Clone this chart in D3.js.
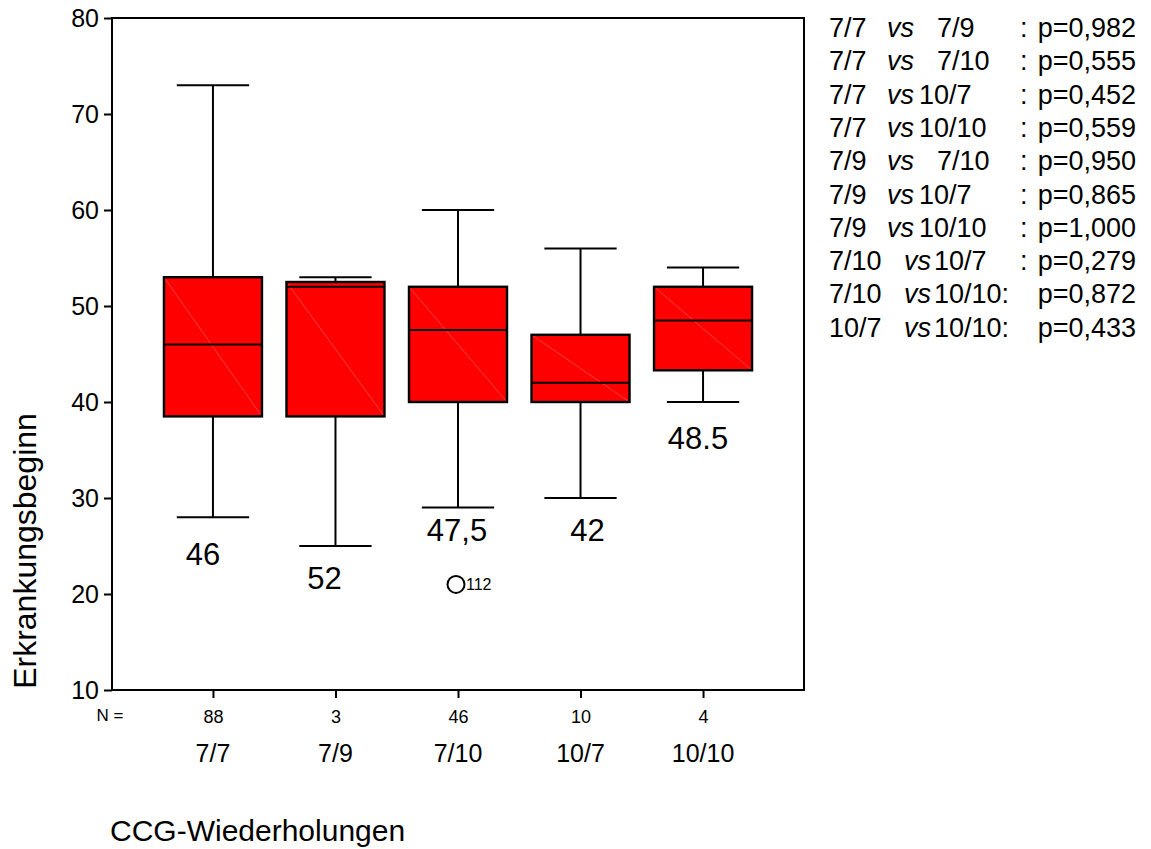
<!DOCTYPE html>
<html>
<head>
<meta charset="utf-8">
<script src="https://cdn.jsdelivr.net/npm/d3@7"></script>
<style>
  html, body { margin: 0; padding: 0; background: #fff; }
  svg { display: block; font-family: "Liberation Sans", Arial, Helvetica, sans-serif; }
</style>
</head>
<body>
<svg id="chart" width="1151" height="849"></svg>
<script>
// Erkrankungsbeginn by CCG-Wiederholungen
const categories = ["7/7", "7/9", "7/10", "10/7", "10/10"];
const counts     = [88, 3, 46, 10, 4];
const whiskerLow = [28, 25, 29, 30, 40];
const q1         = [38.5, 38.5, 40, 40, 43.3];
const median     = [46, 52, 47.5, 42, 48.5];
const q3         = [53, 52.5, 52, 47, 52];
const whiskerHigh= [73, 53, 60, 56, 54];
const medianLabels = ["46", "52", "47,5", "42", "48.5"];
const labelValues  = [23.0, 20.5, 25.5, 25.5, 35.1];   // baseline of each median label on the y scale
const outliers = [{ cat: "7/10", value: 21, id: "112" }];
const yTicks = [10, 20, 30, 40, 50, 60, 70, 80];

// pairwise comparisons
const pairA   = ["7/7", "7/7", "7/7", "7/7", "7/9", "7/9", "7/9", "7/10", "7/10", "10/7"];
const pairB   = ["7/9", "7/10", "10/7", "10/10", "7/10", "10/7", "10/10", "10/7", "10/10", "10/10"];
const pValues = ["0,982", "0,555", "0,452", "0,559", "0,950", "0,865", "1,000", "0,279", "0,872", "0,433"];

const svg = d3.select("#chart");
const plotL = 112, plotR = 804, plotT = 18, plotB = 690;

const y = d3.scaleLinear().domain([10, 80]).range([plotB, plotT]);
const x = d3.scalePoint().domain(categories).range([plotL, plotR]).padding(0.824);
const step = x.step();
const boxW = step * 0.8;
const capW = step * 0.59;

const g = svg.append("g");

// boxes
const rows = categories.map((c, i) => ({
  c, lo: whiskerLow[i], q1: q1[i], med: median[i], q3: q3[i], hi: whiskerHigh[i]
}));

const bx = g.selectAll(".box").data(rows).enter().append("g").attr("class", "box");

// whisker stems
bx.append("line")
  .attr("x1", d => x(d.c)).attr("x2", d => x(d.c))
  .attr("y1", d => y(d.hi)).attr("y2", d => y(d.q3))
  .attr("stroke", "#000").attr("stroke-width", 2);
bx.append("line")
  .attr("x1", d => x(d.c)).attr("x2", d => x(d.c))
  .attr("y1", d => y(d.q1)).attr("y2", d => y(d.lo))
  .attr("stroke", "#000").attr("stroke-width", 2);
// caps
bx.append("line")
  .attr("x1", d => x(d.c) - capW / 2).attr("x2", d => x(d.c) + capW / 2)
  .attr("y1", d => y(d.hi)).attr("y2", d => y(d.hi))
  .attr("stroke", "#000").attr("stroke-width", 2);
bx.append("line")
  .attr("x1", d => x(d.c) - capW / 2).attr("x2", d => x(d.c) + capW / 2)
  .attr("y1", d => y(d.lo)).attr("y2", d => y(d.lo))
  .attr("stroke", "#000").attr("stroke-width", 2);
// box body
bx.append("rect")
  .attr("x", d => x(d.c) - boxW / 2).attr("width", boxW)
  .attr("y", d => y(d.q3)).attr("height", d => y(d.q1) - y(d.q3))
  .attr("fill", "#ff0000");
// faint diagonal inside the fill
bx.append("line")
  .attr("x1", d => x(d.c) - boxW / 2).attr("x2", d => x(d.c) + boxW / 2)
  .attr("y1", d => y(d.q3)).attr("y2", d => y(d.q1))
  .attr("stroke", "#ff6a6a").attr("stroke-width", 0.6);
bx.append("rect")
  .attr("x", d => x(d.c) - boxW / 2).attr("width", boxW)
  .attr("y", d => y(d.q3)).attr("height", d => y(d.q1) - y(d.q3))
  .attr("fill", "none").attr("stroke", "#000").attr("stroke-width", 2.4);
// median
bx.append("line")
  .attr("x1", d => x(d.c) - boxW / 2).attr("x2", d => x(d.c) + boxW / 2)
  .attr("y1", d => y(d.med)).attr("y2", d => y(d.med))
  .attr("stroke", "#000").attr("stroke-width", 2);

// outliers
outliers.forEach(o => {
  g.append("circle")
    .attr("cx", x(o.cat) - 2).attr("cy", y(o.value))
    .attr("r", 8.5).attr("fill", "none").attr("stroke", "#000").attr("stroke-width", 2);
  g.append("text")
    .attr("x", x(o.cat) + 8).attr("y", y(o.value) + 6)
    .attr("font-size", 16).text(o.id);
});

// median value labels
const labelShift = [-10, -11, -1, 7, -5];
g.selectAll(".mlab").data(categories).enter().append("text")
  .attr("x", (c, i) => x(c) + labelShift[i])
  .attr("y", (c, i) => y(labelValues[i]))
  .attr("text-anchor", "middle").attr("font-size", 31)
  .text((c, i) => medianLabels[i]);

// frame
g.append("rect")
  .attr("x", plotL).attr("y", plotT).attr("width", plotR - plotL).attr("height", plotB - plotT)
  .attr("fill", "none").attr("stroke", "#000").attr("stroke-width", 2);

// y axis
const yAxis = g.append("g").attr("transform", `translate(${plotL},0)`)
  .call(d3.axisLeft(y).tickValues(yTicks).tickSize(8).tickPadding(5));
yAxis.select(".domain").remove();
yAxis.selectAll(".tick line").attr("stroke", "#000").attr("stroke-width", 2);
yAxis.selectAll(".tick text").attr("font-size", 25).attr("fill", "#000")
  .attr("font-family", "Liberation Sans, Arial, sans-serif").attr("dy", "0.35em");

// x axis (ticks with group sizes)
const xAxis = g.append("g").attr("transform", `translate(0,${plotB})`)
  .call(d3.axisBottom(x).tickSize(8).tickPadding(12).tickFormat((c, i) => counts[i]));
xAxis.select(".domain").remove();
xAxis.selectAll(".tick line").attr("stroke", "#000").attr("stroke-width", 2);
xAxis.selectAll(".tick text").attr("font-size", 18).attr("fill", "#000")
  .attr("font-family", "Liberation Sans, Arial, sans-serif");

g.append("text").attr("x", 110).attr("y", 721).attr("text-anchor", "middle")
  .attr("font-size", 17).text("N =");

// category names
g.selectAll(".cat").data(categories).enter().append("text")
  .attr("x", c => x(c)).attr("y", 762)
  .attr("text-anchor", "middle").attr("font-size", 25).text(c => c);

// axis titles
g.append("text").attr("x", 110).attr("y", 841).attr("font-size", 30).text("CCG-Wiederholungen");
g.append("text").attr("transform", "translate(36,551) rotate(-90)")
  .attr("text-anchor", "middle").attr("font-size", 32).text("Erkrankungsbeginn");

// comparison list
const listX = 829, listY = 37, lineH = 33.3;
pairA.forEach((a, i) => {
  const longA = a.length > 3;
  const b = pairB[i];
  const xVs = longA ? 904 : 887;
  const xB = longA ? 934 : (b.startsWith("7/") ? 937 : 919);
  const t = svg.append("text").attr("y", listY + i * lineH).attr("font-size", 27);
  t.append("tspan").attr("x", listX).text(a);
  t.append("tspan").attr("x", xVs).attr("font-style", "italic").text("vs");
  const tb = t.append("tspan").attr("x", xB).text(b);
  const colonX = (longA && b.length > 4) ? xB + tb.node().getComputedTextLength() : 1020;
  t.append("tspan").attr("x", colonX).text(":");
  t.append("tspan").attr("x", 1136).attr("text-anchor", "end").text("p=" + pValues[i]);
});
</script>
</body>
</html>
